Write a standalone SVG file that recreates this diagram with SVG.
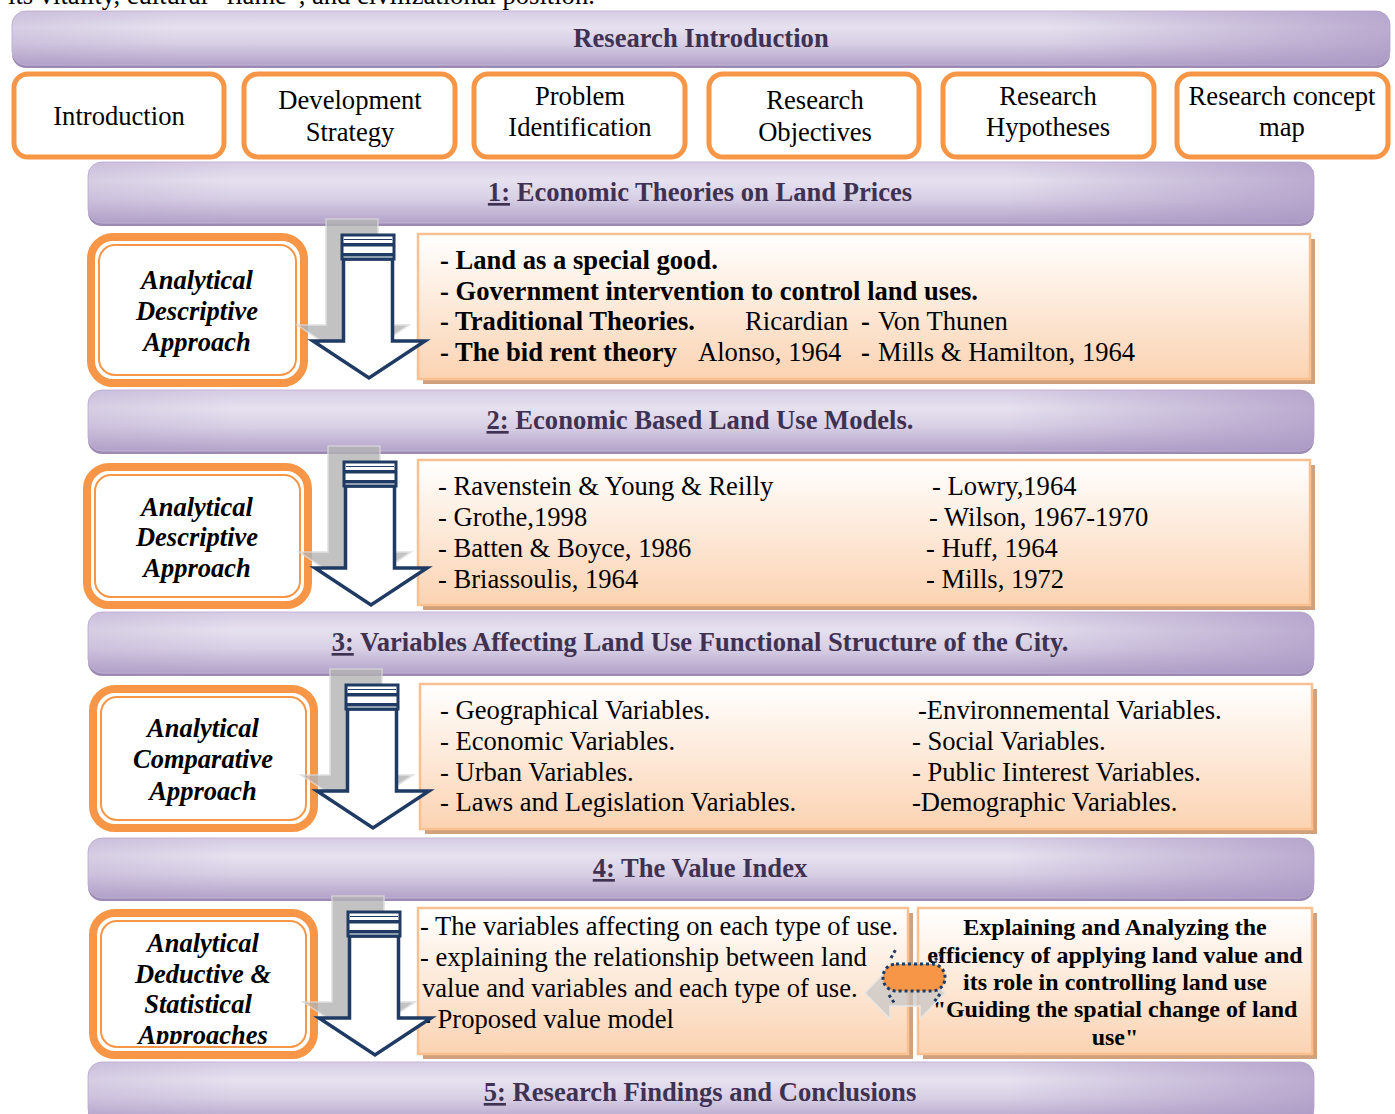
<svg xmlns="http://www.w3.org/2000/svg" xmlns:xlink="http://www.w3.org/1999/xlink" width="1395" height="1114" viewBox="0 0 1395 1114">
<style>
.t{font-family:"Liberation Serif","Times New Roman",serif;font-size:26.6px;fill:#000}
.b{font-weight:bold}
.h{font-family:"Liberation Serif","Times New Roman",serif;font-size:26.6px;font-weight:bold;fill:#3f3151}
.ap{font-family:"Liberation Serif","Times New Roman",serif;font-size:26.5px;font-weight:bold;font-style:italic;fill:#000}
.ob{fill:#fff;stroke:#f79646;stroke-width:5}
.ao{fill:#fff;stroke:#f79646;stroke-width:8}
.ai{fill:none;stroke:#f79646;stroke-width:2}
.bnS{fill:#9c8ab5}
.bn{fill:url(#bv);stroke:#c3b6d6;stroke-width:1}
.bnR{fill:url(#bh)}
.tbS{fill:#cfa27d}
.tb{fill:url(#pv);stroke:#fac090;stroke-width:2.5}
.u{text-decoration:underline}
.t.r4{font-size:24px}
</style>
<defs>
<linearGradient id="bv" x1="0" y1="0" x2="0" y2="1">
<stop offset="0" stop-color="#d6cce4"/>
<stop offset="0.3" stop-color="#e6e1ef"/>
<stop offset="0.6" stop-color="#d8cfe5"/>
<stop offset="1" stop-color="#b3a3c9"/>
</linearGradient>
<linearGradient id="bh" x1="0" y1="0" x2="1" y2="0">
<stop offset="0" stop-color="#a895c2" stop-opacity="0.25"/>
<stop offset="0.12" stop-color="#a895c2" stop-opacity="0"/>
<stop offset="0.75" stop-color="#a895c2" stop-opacity="0"/>
<stop offset="1" stop-color="#a895c2" stop-opacity="0.7"/>
</linearGradient>
<linearGradient id="pv" x1="0" y1="0" x2="0" y2="1">
<stop offset="0" stop-color="#ffffff"/>
<stop offset="1" stop-color="#fbd3b2"/>
</linearGradient>
<g id="arrow">
<g transform="translate(-16,-16)" opacity="0.8">
<path d="M0,0 H52 V106 H83 L27,143 L-29,106 H0 Z" fill="#b3b3b3" stroke="#d9d9d9" stroke-width="1.5"/>
</g>
<path d="M1.5,24 H50.5 V106 H83 L27,143 L-29,106 H1.5 Z" fill="#fff" stroke="#1f3a63" stroke-width="3.5" stroke-linejoin="miter"/>
<rect x="0" y="0" width="52" height="24" fill="#fff" stroke="#1f3a63" stroke-width="3"/>
<line x1="2" y1="4.5" x2="50" y2="4.5" stroke="#1f3a63" stroke-width="1"/>
<rect x="1" y="8" width="50" height="3.5" fill="#1f3a63"/>
<rect x="1" y="18" width="50" height="3.5" fill="#1f3a63"/>
</g>
<clipPath id="clip4"><rect x="80" y="900" width="250" height="144"/></clipPath>
</defs>

<text class="t" x="8" y="4">its vitality, cultural “flame”, and civilizational position.</text>

<g id="banner0">
<rect class="bnS" x="12" y="14" width="1378" height="54" rx="14"/>
<rect class="bn" x="12" y="11" width="1378" height="54" rx="14"/>
<rect class="bnR" x="12" y="11" width="1378" height="54" rx="14"/>
<text class="h" x="701" y="47" text-anchor="middle">Research Introduction</text>
</g>

<g id="intro">
<rect class="ob" x="14" y="74" width="210" height="83" rx="14"/>
<text class="t" x="119" y="125" text-anchor="middle">Introduction</text>
</g>
<g id="devstrategy">
<rect class="ob" x="244" y="74" width="211" height="83" rx="14"/>
<text class="t" x="350" y="109" text-anchor="middle">Development</text>
<text class="t" x="350" y="141" text-anchor="middle">Strategy</text>
</g>
<g id="problem">
<rect class="ob" x="474" y="74" width="211" height="83" rx="14"/>
<text class="t" x="580" y="105" text-anchor="middle">Problem</text>
<text class="t" x="580" y="136" text-anchor="middle">Identification</text>
</g>
<g id="objectives">
<rect class="ob" x="709" y="74" width="210" height="83" rx="14"/>
<text class="t" x="815" y="109" text-anchor="middle">Research</text>
<text class="t" x="815" y="141" text-anchor="middle">Objectives</text>
</g>
<g id="hypotheses">
<rect class="ob" x="943" y="74" width="211" height="83" rx="14"/>
<text class="t" x="1048" y="105" text-anchor="middle">Research</text>
<text class="t" x="1048" y="136" text-anchor="middle">Hypotheses</text>
</g>
<g id="conceptmap">
<rect class="ob" x="1177" y="74" width="211" height="83" rx="14"/>
<text class="t" x="1282" y="105" text-anchor="middle">Research concept</text>
<text class="t" x="1282" y="136" text-anchor="middle">map</text>
</g>

<g id="banner1">
<rect class="bnS" x="88" y="165" width="1226" height="61" rx="14"/>
<rect class="bn" x="88" y="162" width="1226" height="61" rx="14"/>
<rect class="bnR" x="88" y="162" width="1226" height="61" rx="14"/>
<text class="h" x="700" y="201" text-anchor="middle"><tspan class="u">1:</tspan> Economic Theories on Land Prices</text>
</g>

<g id="approach1">
<rect class="ao" x="91" y="237" width="213" height="146" rx="22"/>
<rect class="ai" x="99" y="245" width="197" height="130" rx="16"/>
<text class="ap" x="197" y="289" text-anchor="middle">Analytical</text>
<text class="ap" x="197" y="320" text-anchor="middle">Descriptive</text>
<text class="ap" x="197" y="351" text-anchor="middle">Approach</text>
</g>

<g id="content1">
<rect class="tbS" x="423" y="239" width="892" height="145"/>
<rect class="tb" x="418" y="234" width="892" height="145"/>
<text class="t b" x="440" y="269">- Land as a special good.</text>
<text class="t b" x="440" y="300">- Government intervention to control land uses.</text>
<text class="t" x="440" y="330"><tspan class="b">- Traditional Theories.</tspan><tspan x="745">Ricardian</tspan><tspan x="861" class="b">-</tspan><tspan x="878">Von Thunen</tspan></text>
<text class="t" x="440" y="361"><tspan class="b">- The bid rent theory</tspan><tspan x="698">Alonso, 1964</tspan><tspan x="861" class="b">-</tspan><tspan x="878">Mills &amp; Hamilton, 1964</tspan></text>
</g>

<g id="banner2">
<rect class="bnS" x="88" y="393" width="1226" height="61" rx="14"/>
<rect class="bn" x="88" y="390" width="1226" height="61" rx="14"/>
<rect class="bnR" x="88" y="390" width="1226" height="61" rx="14"/>
<text class="h" x="700" y="429" text-anchor="middle"><tspan class="u">2:</tspan> Economic Based Land Use Models.</text>
</g>

<g id="approach2">
<rect class="ao" x="87" y="467" width="221" height="138" rx="22"/>
<rect class="ai" x="95" y="475" width="205" height="122" rx="16"/>
<text class="ap" x="197" y="516" text-anchor="middle">Analytical</text>
<text class="ap" x="197" y="546" text-anchor="middle">Descriptive</text>
<text class="ap" x="197" y="577" text-anchor="middle">Approach</text>
</g>

<g id="content2">
<rect class="tbS" x="423" y="465" width="892" height="145"/>
<rect class="tb" x="418" y="460" width="892" height="145"/>
<text class="t" x="438" y="495">- Ravenstein &amp; Young &amp; Reilly</text>
<text class="t" x="438" y="526">- Grothe,1998</text>
<text class="t" x="438" y="557">- Batten &amp; Boyce, 1986</text>
<text class="t" x="438" y="588">- Briassoulis, 1964</text>
<text class="t" x="932" y="495">- Lowry,1964</text>
<text class="t" x="929" y="526">- Wilson, 1967-1970</text>
<text class="t" x="926" y="557">- Huff, 1964</text>
<text class="t" x="926" y="588">- Mills, 1972</text>
</g>

<g id="banner3">
<rect class="bnS" x="88" y="615" width="1226" height="61" rx="14"/>
<rect class="bn" x="88" y="612" width="1226" height="61" rx="14"/>
<rect class="bnR" x="88" y="612" width="1226" height="61" rx="14"/>
<text class="h" x="700" y="651" text-anchor="middle"><tspan class="u">3:</tspan> Variables Affecting Land Use Functional Structure of the City.</text>
</g>

<g id="approach3">
<rect class="ao" x="93" y="689" width="221" height="139" rx="22"/>
<rect class="ai" x="101" y="697" width="205" height="123" rx="16"/>
<text class="ap" x="203" y="737" text-anchor="middle">Analytical</text>
<text class="ap" x="203" y="768" text-anchor="middle">Comparative</text>
<text class="ap" x="203" y="800" text-anchor="middle">Approach</text>
</g>

<g id="content3">
<rect class="tbS" x="425" y="689" width="892" height="145"/>
<rect class="tb" x="420" y="684" width="892" height="145"/>
<text class="t" x="440" y="719">- Geographical Variables.</text>
<text class="t" x="440" y="750">- Economic Variables.</text>
<text class="t" x="440" y="781">- Urban Variables.</text>
<text class="t" x="440" y="811">- Laws and Legislation Variables.</text>
<text class="t" x="918" y="719">-Environnemental Variables.</text>
<text class="t" x="912" y="750">- Social Variables.</text>
<text class="t" x="912" y="781">- Public Iinterest Variables.</text>
<text class="t" x="912" y="811">-Demographic Variables.</text>
</g>

<g id="banner4">
<rect class="bnS" x="88" y="841" width="1226" height="60" rx="14"/>
<rect class="bn" x="88" y="838" width="1226" height="60" rx="14"/>
<rect class="bnR" x="88" y="838" width="1226" height="60" rx="14"/>
<text class="h" x="700" y="877" text-anchor="middle"><tspan class="u">4:</tspan> The Value Index</text>
</g>

<g id="approach4">
<rect class="ao" x="93" y="913" width="221" height="142" rx="22"/>
<rect class="ai" x="101" y="921" width="205" height="126" rx="16"/>
<g clip-path="url(#clip4)">
<text class="ap" x="203" y="952" text-anchor="middle">Analytical</text>
<text class="ap" x="203" y="983" text-anchor="middle">Deductive &amp;</text>
<text class="ap" x="198" y="1013" text-anchor="middle">Statistical</text>
<text class="ap" x="203" y="1044" text-anchor="middle">Approaches</text>
</g>
</g>

<g id="content4">
<rect class="tbS" x="423" y="913" width="490" height="146"/>
<rect class="tb" x="418" y="908" width="490" height="146"/>
<text class="t" x="420" y="935">- The variables affecting on each type of use.</text>
<text class="t" x="420" y="966">- explaining the relationship between land</text>
<text class="t" x="422" y="997">value and variables and each type of use.</text>
<text class="t" x="422" y="1028">- Proposed value model</text>
</g>

<g id="result4">
<rect class="tbS" x="923" y="913" width="394" height="146"/>
<rect class="tb" x="918" y="908" width="394" height="146"/>
<text class="t b r4" x="1115" y="935" text-anchor="middle">Explaining and Analyzing the</text>
<text class="t b r4" x="1115" y="963" text-anchor="middle">efficiency of applying land value and</text>
<text class="t b r4" x="1115" y="990" text-anchor="middle">its role in controlling land use</text>
<text class="t b r4" x="1115" y="1017" text-anchor="middle">"Guiding the spatial change of land</text>
<text class="t b r4" x="1115" y="1045" text-anchor="middle">use"</text>
</g>

<g id="banner5">
<rect class="bnS" x="88" y="1065" width="1226" height="60" rx="14"/>
<rect class="bn" x="88" y="1062" width="1226" height="60" rx="14"/>
<rect class="bnR" x="88" y="1062" width="1226" height="60" rx="14"/>
<text class="h" x="700" y="1101" text-anchor="middle"><tspan class="u">5:</tspan> Research Findings and Conclusions</text>
</g>

<g id="connectors">
<use xlink:href="#arrow" transform="translate(342,235)"/>
<use xlink:href="#arrow" transform="translate(344,462)"/>
<use xlink:href="#arrow" transform="translate(346,685)"/>
<use xlink:href="#arrow" transform="translate(348,912)"/>
<g id="dblarrow">
<path d="M865,993 L890,967 V980 H920 V967 L945,993 L920,1019 V1006 H890 V1019 Z" fill="#c4c4c4" fill-opacity="0.7" stroke="#e6e6e6" stroke-width="1.5"/>
<rect x="883" y="964" width="62" height="27" rx="13" fill="#f79646" stroke="#1f3a63" stroke-width="3" stroke-dasharray="3 3"/>
<path d="M891,958 L896,949 M889,995 L895,1004 M935,960 L941,955 M940,994 L934,1002" stroke="#1f3a63" stroke-width="3" stroke-dasharray="3 3" fill="none"/>
</g>
</g>
</svg>
